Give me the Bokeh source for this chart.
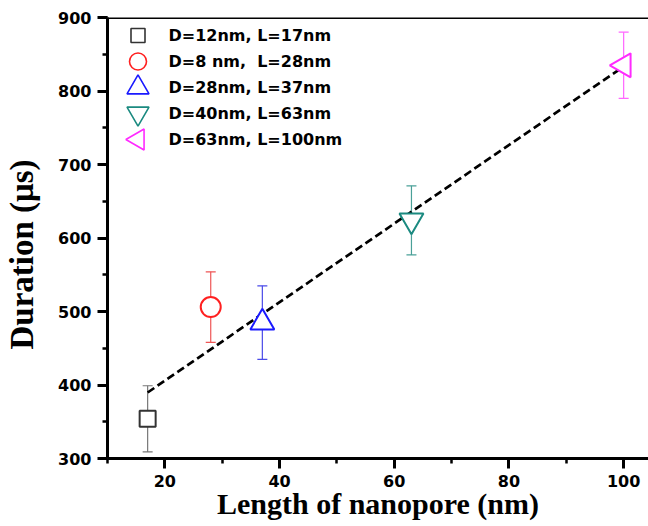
import math
import numpy as np
from bokeh.plotting import figure
from bokeh.models import (ColumnDataSource, Range1d, SingleIntervalTicker, Whisker,
                          TeeHead, Span)
from bokeh.core.properties import value
from bokeh.embed import file_html
from bokeh.resources import INLINE

# ---- data ----
labels = ["D=12nm, L=17nm", "D=8 nm,\u00a0 L=28nm", "D=28nm, L=37nm",
          "D=40nm, L=63nm", "D=63nm, L=100nm"]
length_nm = [17, 28, 37, 63, 100]
duration_us = [354, 506, 485, 624, 835]
duration_err = [45, 48, 50, 47, 45]

# ---- styles ----
markers = ["square", "circle", "triangle", "inverted_triangle", "triangle"]
angles = [0, 0, 0, 0, math.pi / 2]
sizes = [16, 20, 24, 24, 24]
legend_sizes = [14, 17, 22, 22, 21]
colors = ["#333333", "#ff2020", "#1a1aff", "#1b8a80", "#ff2aff"]
err_colors = ["#777777", "#ee5555", "#4a4ae8", "#4aa098", "#ff66ff"]

W, H = 648, 526
ML, MR, MT, MB = 107, 0, 17, 68
FW, FH = W - ML - MR, H - MT - MB
x0, x1 = 10, 10 + FW / 5.735
y0, y1 = 300, 900

p = figure(width=W, height=H, output_backend="svg", toolbar_location=None,
           x_range=Range1d(x0, x1), y_range=Range1d(y0, y1),
           min_border_left=ML, min_border_right=MR, min_border_top=MT,
           min_border_bottom=MB)
p.outline_line_color = None
p.grid.visible = False
p.background_fill_color = "white"
p.border_fill_color = "white"

for ax, interval in ((p.xaxis[0], 20), (p.yaxis[0], 100)):
    ax.ticker = SingleIntervalTicker(interval=interval, num_minor_ticks=2)
    ax.axis_line_width = 3
    ax.axis_line_color = "black"
    ax.major_tick_line_width = 3
    ax.minor_tick_line_width = 2.5
    ax.major_tick_out = 10
    ax.major_tick_in = 0
    ax.minor_tick_out = 5
    ax.minor_tick_in = 0
    ax.major_label_text_font = "DejaVu Sans"
    ax.major_label_text_font_style = "bold"
    ax.major_label_text_font_size = "16px"
    ax.major_label_text_color = "black"
    ax.major_label_standoff = 6
    ax.axis_label_text_font = "Liberation Serif"
    ax.axis_label_text_font_style = "bold"
    ax.axis_label_text_color = "black"

p.xaxis.axis_label = "Length of nanopore (nm)"
p.xaxis.axis_label_text_font_size = "30px"
p.xaxis.axis_label_standoff = -3
p.yaxis.axis_label = "Duration (μs)\u00a0\u00a0\u00a0\u00a0"
p.yaxis.axis_label_text_font_size = "33px"
p.yaxis.axis_label_standoff = 15

p.add_layout(Span(location=y1, dimension="width", line_color="black", line_width=3))

# linear fit line (computed from data)
b, a = np.polyfit(length_nm, duration_us, 1)
fx = [min(length_nm), max(length_nm)]
fy = [a + b * v for v in fx]
p.line(fx, fy, line_color="black", line_width=2.7, line_dash="8 4")

# error bars
for i in range(len(length_nm)):
    src = ColumnDataSource(dict(x=[length_nm[i]],
                                lo=[duration_us[i] - duration_err[i]],
                                hi=[duration_us[i] + duration_err[i]]))
    w = Whisker(source=src, base="x", lower="lo", upper="hi",
                line_color=err_colors[i], line_width=1.2, level="underlay",
                lower_head=TeeHead(size=10, line_color=err_colors[i], line_width=1.2),
                upper_head=TeeHead(size=10, line_color=err_colors[i], line_width=1.2))
    p.add_layout(w)

src = ColumnDataSource(dict(x=length_nm, y=duration_us, marker=markers,
                            angle=angles, size=sizes, color=colors))
p.scatter("x", "y", source=src, marker="marker", angle="angle", size="size",
          line_color="color", line_width=2, fill_color="white")

# manual legend (positions from layout in pixels)
ux = (x1 - x0) / FW
uy = (y1 - y0) / FH
lx_m = x0 + 30.5 * ux
lx_t = x0 + 61 * ux
rows = [y1 - (18 + 26 * i) * uy for i in range(len(labels))]
lsrc = ColumnDataSource(dict(x=[lx_m] * len(labels), y=rows, marker=markers,
                             angle=angles, size=legend_sizes, color=colors,
                             tx=[lx_t] * len(labels), text=labels))
p.scatter("x", "y", source=lsrc, marker="marker", angle="angle", size="size",
          line_color="color", line_width=1.6, fill_color="white")
p.text("tx", "y", text="text", source=lsrc, text_font=value("DejaVu Sans"),
       text_font_style="bold", text_font_size="16px", text_baseline="middle",
       text_align="left", text_color="black")

open("out.html", "w").write(file_html(p, INLINE))
